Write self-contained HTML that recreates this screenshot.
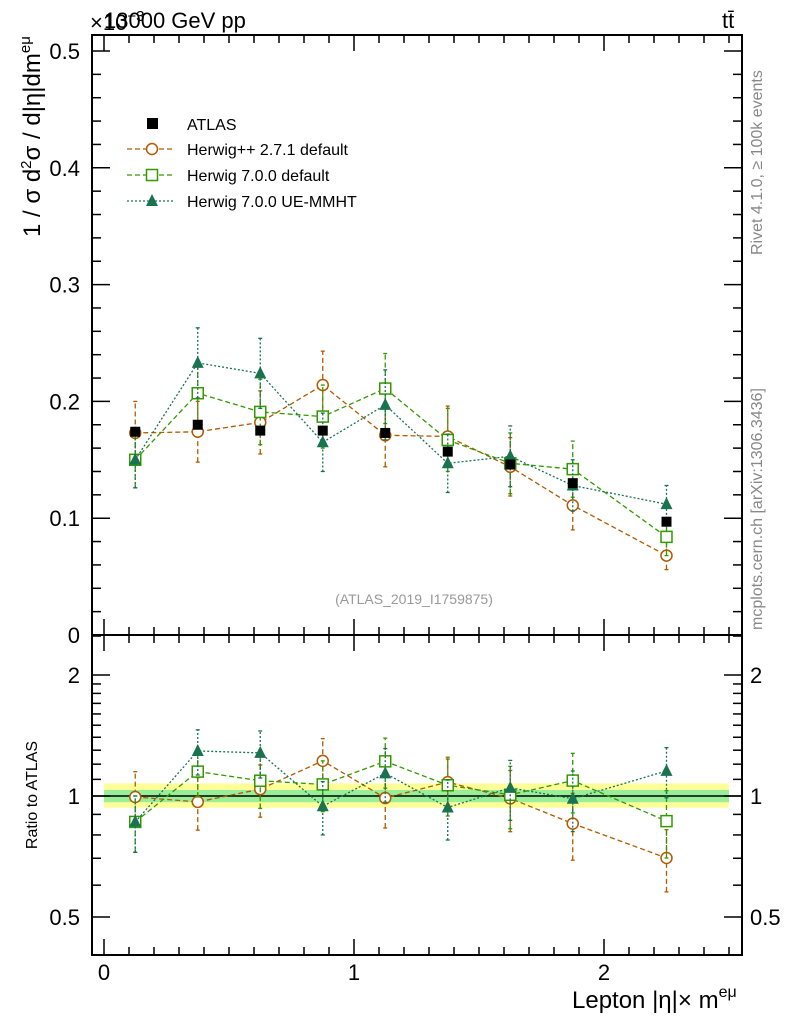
<!DOCTYPE html>
<html><head><meta charset="utf-8"><style>
body{margin:0;background:#fff}
svg{display:block;font-family:"Liberation Sans",sans-serif}
</style></head><body>
<svg id="c" width="786" height="1024" viewBox="0 0 786 1024"></svg>
<script>
const binCenters=[0.125,0.375,0.625,0.875,1.125,1.375,1.625,1.875,2.25];
const atlas=[0.174,0.180,0.175,0.175,0.173,0.157,0.146,0.130,0.097];
const atlasErr=[0.004,0.004,0.004,0.004,0.004,0.004,0.004,0.004,0.004];
const hpp=[0.173,0.174,0.182,0.214,0.171,0.170,0.144,0.111,0.068];
const hppErr=[0.027,0.026,0.027,0.029,0.027,0.026,0.025,0.021,0.012];
const h7=[0.150,0.207,0.191,0.187,0.211,0.167,0.147,0.142,0.084];
const h7Err=[0.024,0.028,0.028,0.027,0.030,0.027,0.026,0.024,0.016];
const ue=[0.150,0.233,0.224,0.165,0.197,0.147,0.153,0.128,0.112];
const ueErr=[0.024,0.030,0.030,0.025,0.030,0.025,0.026,0.022,0.016];
const mainTicks=[0,0.1,0.2,0.3,0.4,0.5];
const mainTickLabels=["0","0.1","0.2","0.3","0.4","0.5"];
const ratioTicks=[0.5,1,2];
const ratioTickLabels=["0.5","1","2"];
const xTicks=[0,1,2];
const xTickLabels=["0","1","2"];

const S=document.getElementById('c');
const NS='http://www.w3.org/2000/svg';
function mk(tag,attrs,parent,text){const e=document.createElementNS(NS,tag);for(const k in attrs)e.setAttribute(k,attrs[k]);if(text!==undefined)e.textContent=text;(parent||S).appendChild(e);return e;}
const L=92,R=742,T=35,MB=635,RB=955;
const X=v=>104+v*250;
const Y=v=>635-v*1168;
const YR=r=>796-Math.log2(r)*121;

const gB=mk('g',{});


mk('rect',{x:X(0),y:YR(1.075),width:X(2.5)-X(0),height:YR(0.935)-YR(1.075),fill:'#ffff99'},gB);
mk('rect',{x:X(0),y:YR(1.035),width:X(2.5)-X(0),height:YR(0.965)-YR(1.035),fill:'#99ee99'},gB);
mk('line',{x1:L,x2:R,y1:YR(1),y2:YR(1),stroke:'#000','stroke-width':1.5},gB);

const fr=mk('g',{fill:'none',stroke:'#000','stroke-width':2});


mk('rect',{x:L,y:T,width:R-L,height:MB-T},fr);
mk('rect',{x:L,y:MB,width:R-L,height:RB-MB},fr);

const tk=mk('g',{stroke:'#000','stroke-width':1.5});


for(let i=0;i<=25;i++){const v=i/10,x=X(v),len=(i%10==0)?16:8;
 for(const [y0,d] of [[T,1],[MB,-1],[MB,1],[RB,-1]]) mk('line',{x1:x,x2:x,y1:y0,y2:y0+d*len},tk);}
for(let i=0;i<=26;i++){const v=i*0.02,y=Y(v);if(y<T)continue;const len=(i%5==0)?18:9;
 mk('line',{x1:L,x2:L+len,y1:y,y2:y},tk);mk('line',{x1:R,x2:R-len,y1:y,y2:y},tk);}
const rMinor=[0.4,0.5,0.6,0.7,0.8,0.9,1,1.1,1.2,1.3,1.4,1.5,1.6,1.7,1.8,1.9,2,2.5];
rMinor.forEach(r=>{const y=YR(r);if(y<MB||y>RB)return;const len=ratioTicks.includes(r)?18:9;
 mk('line',{x1:L,x2:L+len,y1:y,y2:y},tk);mk('line',{x1:R,x2:R-len,y1:y,y2:y},tk);});

mainTicks.forEach((v,i)=>{const t=mk('text',{x:80,y:Y(v)+8,'text-anchor':'end','font-size':22},S,mainTickLabels[i]);
 
 });
ratioTicks.forEach((v,i)=>{const y=YR(v)+8;
 const t=mk('text',{x:80,y:y,'text-anchor':'end','font-size':22},S,ratioTickLabels[i]);
 
 
 const t2=mk('text',{x:750,y:y,'font-size':22},S,ratioTickLabels[i]);
 
 });
xTicks.forEach((v,i)=>{const t=mk('text',{x:X(v),y:980,'text-anchor':'middle','font-size':22},S,xTickLabels[i]);
 
 });

function series(name,vals,errs,color,dash,marker){
 const g=mk('g',{});
 
 
 const pts=vals.map((v,i)=>X(binCenters[i])+','+Y(v)).join(' ');
 const rpts=vals.map((v,i)=>X(binCenters[i])+','+YR(v/atlas[i])).join(' ');
 mk('polyline',{points:pts,fill:'none',stroke:color,'stroke-width':1.3,'stroke-dasharray':dash},g);
 mk('polyline',{points:rpts,fill:'none',stroke:color,'stroke-width':1.3,'stroke-dasharray':dash},g);
 vals.forEach((v,i)=>{const x=X(binCenters[i]);
  const r=v/atlas[i],re=errs[i]/atlas[i];
  for(const [yc,y1,y2] of [[Y(v),Y(v-errs[i]),Y(v+errs[i])],[YR(r),YR(Math.max(r-re,0.41)),YR(r+re)]]){
   mk('line',{x1:x,x2:x,y1:y1,y2:y2,stroke:color,'stroke-width':1.3,'stroke-dasharray':dash},g);
   mk('line',{x1:x-2,x2:x+2,y1:y1,y2:y1,stroke:color,'stroke-width':1.3},g);
   mk('line',{x1:x-2,x2:x+2,y1:y2,y2:y2,stroke:color,'stroke-width':1.3},g);
   marker(g,x,yc);}
 });
}
const circ=c=>(g,x,y)=>mk('circle',{cx:x,cy:y,r:5.5,fill:'#fff',stroke:c,'stroke-width':1.5},g);
const sq=c=>(g,x,y)=>mk('rect',{x:x-5.5,y:y-5.5,width:11,height:11,fill:'#fff',stroke:c,'stroke-width':1.5},g);
const tri=c=>(g,x,y)=>mk('polygon',{points:`${x},${y-7} ${x-6},${y+5} ${x+6},${y+5}`,fill:c},g);
series('series-herwigpp-271',hpp,hppErr,'#b35900','5,3',circ('#b35900'));
series('series-herwig700-default',h7,h7Err,'#339900','5,3',sq('#339900'));
series('series-herwig700-ue-mmht',ue,ueErr,'#1a7350','2,2',tri('#1a7350'));
const ga=mk('g',{});


atlas.forEach((v,i)=>{const x=X(binCenters[i]),y=Y(v);
 mk('line',{x1:x,x2:x,y1:Y(v-atlasErr[i]),y2:Y(v+atlasErr[i]),stroke:'#000','stroke-width':1},ga);
 mk('rect',{x:x-5,y:y-5,width:10,height:10,fill:'#000'},ga);});

const lg=mk('g',{'font-size':16});


mk('rect',{x:147,y:118,width:11,height:11,fill:'#000'},lg);
mk('text',{x:187,y:130},lg,'ATLAS');
const leg=[['Herwig++ 2.7.1 default','#b35900','5,3',circ('#b35900'),149],['Herwig 7.0.0 default','#339900','5,3',sq('#339900'),175],['Herwig 7.0.0 UE-MMHT','#1a7350','2,2',tri('#1a7350'),201]];
leg.forEach(([t,c,d,m,y])=>{mk('line',{x1:127,x2:175,y1:y,y2:y,stroke:c,'stroke-width':1.3,'stroke-dasharray':d},lg);m(lg,152,y);mk('text',{x:187,y:y+6},lg,t);});

function txt(name,attrs,s){const t=mk('text',attrs,S,s);return t;}
txt('energy-label',{x:104,y:28,'font-size':22},'13000 GeV pp');
const yl=txt('y-scale-label',{x:90,y:30,'font-size':22},'×10');
mk('tspan',{dy:-9,'font-size':15},yl,'−3');
txt('process-label',{x:722,y:28,'font-size':22},'tt̄');
const ya=txt('y-axis-title',{x:0,y:0,'font-size':24,transform:'translate(40,237) rotate(-90)'},'1 / σ  d');
mk('tspan',{dy:-9,'font-size':15},ya,'2');
mk('tspan',{dy:9},ya,'σ / d|η|dm');
mk('tspan',{dy:-10,'font-size':15},ya,'eμ');
txt('ratio-axis-title',{x:0,y:0,'font-size':16,'text-anchor':'middle',transform:'translate(37,795) rotate(-90)'},'Ratio to ATLAS');
const xa=txt('x-axis-title',{x:572,y:1008,'font-size':24},'Lepton |η|× m');
mk('tspan',{dy:-11,'font-size':16},xa,'eμ');
txt('analysis-id',{x:414,y:604,'font-size':14,fill:'#999','text-anchor':'middle'},'(ATLAS_2019_I1759875)');
txt('rivet-label',{x:0,y:0,'font-size':16,fill:'#888',transform:'translate(762,255) rotate(-90)'},'Rivet 4.1.0, ≥ 100k events');
txt('mcplots-label',{x:0,y:0,'font-size':16,fill:'#888',transform:'translate(762,630) rotate(-90)'},'mcplots.cern.ch [arXiv:1306.3436]');
</script>
</body></html>
